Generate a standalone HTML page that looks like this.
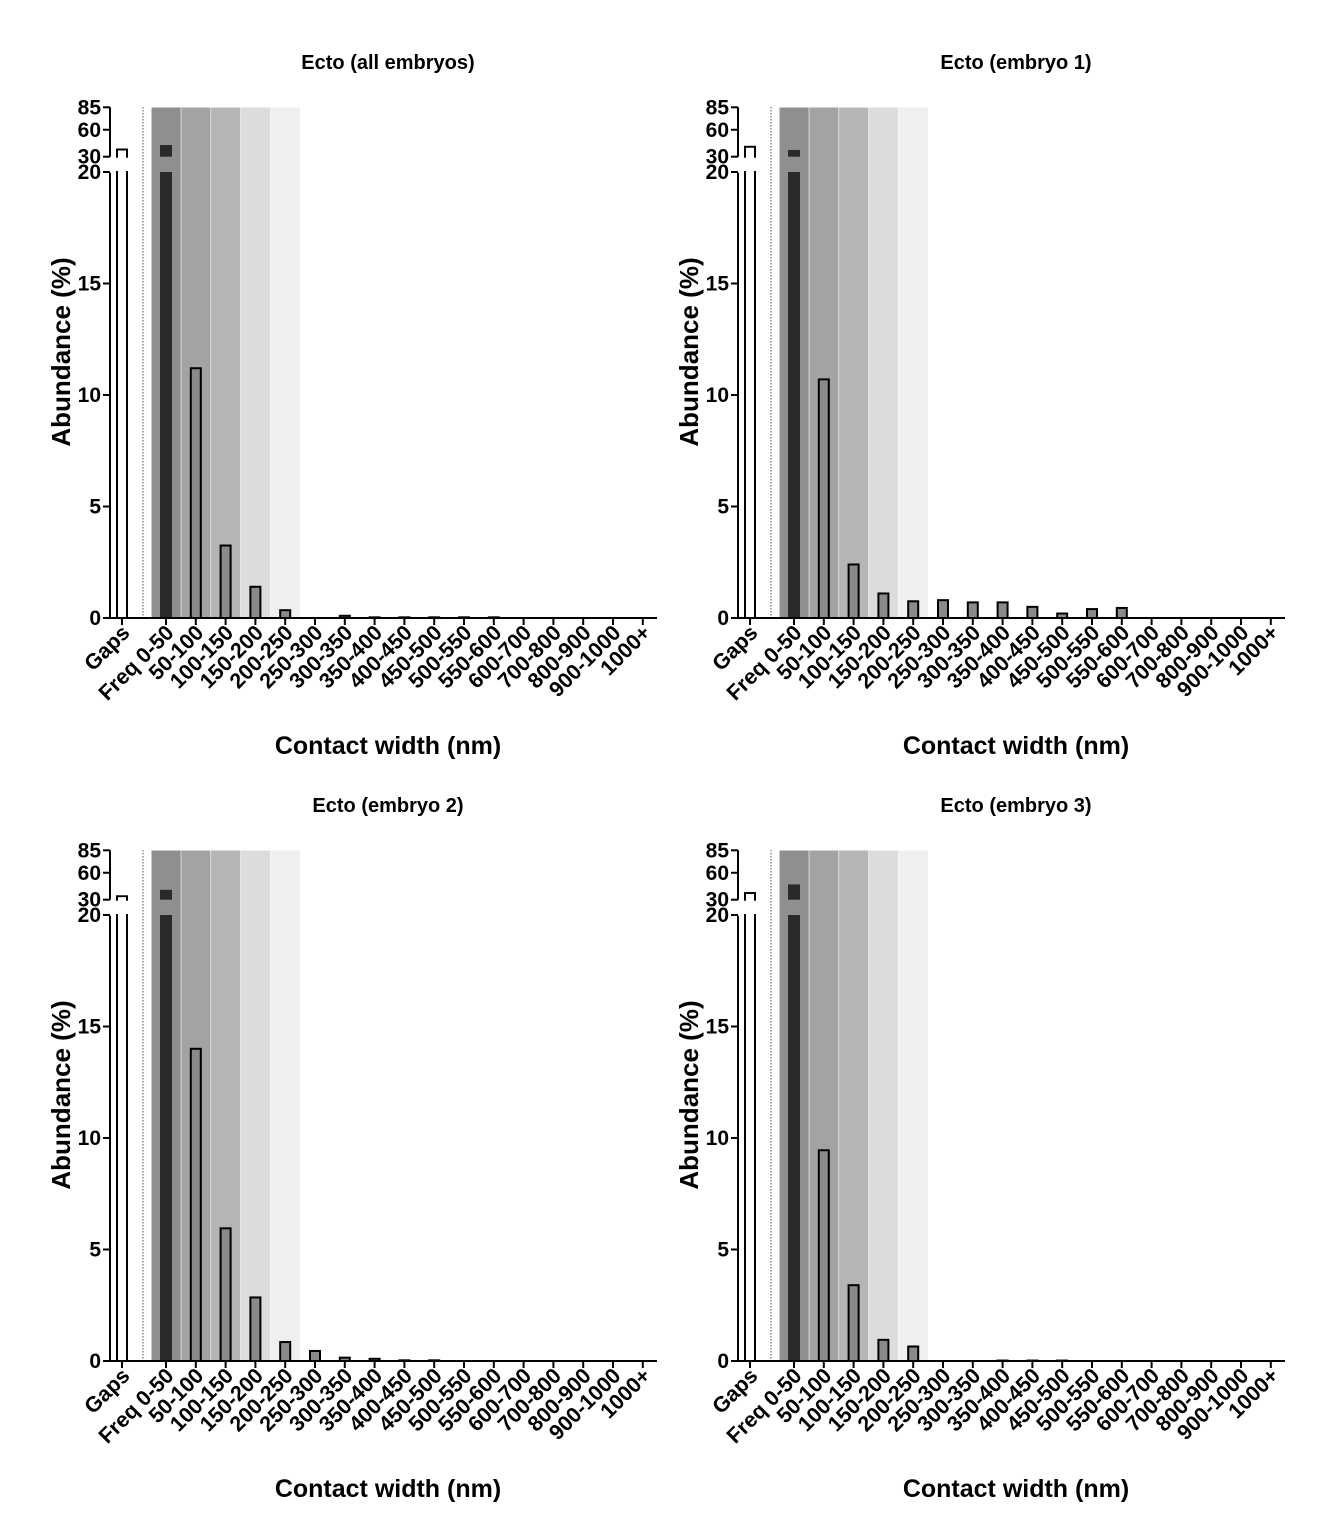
<!DOCTYPE html>
<html><head><meta charset="utf-8"><style>
body{margin:0;background:#fff;}
svg{display:block;font-family:"Liberation Sans",Arial,sans-serif;}
</style></head><body>
<svg id="fig" width="1334" height="1526" viewBox="0 0 1334 1526"></svg>
<script>
const categories=["Gaps","Freq 0-50","50-100","100-150","150-200","200-250","250-300","300-350","350-400","400-450","450-500","500-550","550-600","600-700","700-800","800-900","900-1000","1000+"];
const titles=["Ecto (all embryos)","Ecto (embryo 1)","Ecto (embryo 2)","Ecto (embryo 3)"];
const valuesAll=[38,43,11.2,3.25,1.4,0.35,0,0.1,0.03,0.03,0.03,0.03,0.03,0,0,0,0,0];
const valuesE1=[41,37.5,10.7,2.4,1.1,0.75,0.8,0.7,0.7,0.5,0.2,0.4,0.45,0,0,0,0,0];
const valuesE2=[33.8,41,14.0,5.95,2.85,0.85,0.45,0.15,0.1,0.03,0.03,0,0,0,0,0,0,0];
const valuesE3=[37.4,47,9.45,3.4,0.95,0.65,0,0,0.02,0.02,0.02,0,0,0,0,0,0,0];
const lowerTicks=[0,5,10,15,20];
const upperTicks=[30,60,85];
const bandColors=["#8f8f8f","#a3a3a3","#b5b5b5","#dcdcdc","#efefef"];
const series=[valuesAll,valuesE1,valuesE2,valuesE3];
const offsets=[[0,0],[628,0],[0,743],[628,743]];
const NS="http://www.w3.org/2000/svg";
const svg=document.getElementById('fig');
function mk(tag,attrs,parent,text){const e=document.createElementNS(NS,tag);for(const k in attrs)e.setAttribute(k,attrs[k]);if(text!==undefined)e.textContent=text;parent.appendChild(e);return e;}
function xPos(i){return i===0?122:166+(i-1)*29.8;}
function yLow(v){return 618-Math.min(v,20)*(446/20);}
function yUp(v){return 156.7-(Math.min(v,85)-30)*(49.4/55);}
series.forEach((vals,p)=>{
  const [ox,oy]=offsets[p];
  const g=mk('g',{transform:`translate(${ox},${oy})`},svg);
  
  
  const t=mk('text',{x:388,y:69,'text-anchor':'middle','font-size':20,'font-weight':'bold'},g,titles[p]);
  
  
  for(let b=0;b<5;b++){
    const r=mk('rect',{x:xPos(b+1)-14.5,y:107.5,width:29.2,height:510.5,fill:bandColors[b]},g);
    
    
  }
  const dl=mk('line',{x1:143,y1:107,x2:143,y2:618,stroke:'#555','stroke-width':1,'stroke-dasharray':'1.5,1.5'},g);
  
  
  vals.forEach((v,i)=>{
    const cx=xPos(i);
    const w=i===1?12:10;
    const fill=i===0?'#fff':(i===1?'#2a2a2a':'#8a8a8a');
    const sw=i===1?0:2;
    if(v<=0)return;
    const yl=yLow(v);
    const r=mk('rect',{x:cx-w/2,y:yl,width:w,height:618-yl,fill:fill,stroke:sw?'#000':'none','stroke-width':sw},g);
    
    
    if(v>20){
      const yu=yUp(v);
      const r2=mk('rect',{x:cx-w/2,y:yu,width:w,height:Math.max(156.7-yu,1),fill:fill,stroke:sw?'#000':'none','stroke-width':sw},g);
      
      
      if(i===0){
        mk('rect',{x:cx-w/2+1,y:yu+1,width:w-2,height:Math.max(156.7-yu,1)+2,fill:'#fff'},g);
        mk('rect',{x:cx-w/2+1,y:yl-2,width:w-2,height:4,fill:'#fff'},g);
        mk('line',{x1:cx-w/2,y1:yl-1,x2:cx-w/2,y2:618,stroke:'#000','stroke-width':2},g);
      }
    }
  });
  const ya=mk('path',{d:'M110,172.7V619 M110,107.3V156.7',stroke:'#000','stroke-width':2,fill:'none'},g);
  
  
  lowerTicks.forEach(v=>{
    const y=yLow(v);
    mk('line',{x1:103,y1:y,x2:110,y2:y,stroke:'#000','stroke-width':2},g);
    const l=mk('text',{x:101,y:y+7,'text-anchor':'end','font-size':21,'font-weight':'bold'},g,String(v));
    
    
  });
  upperTicks.forEach(v=>{
    const y=yUp(v);
    mk('line',{x1:103,y1:y,x2:110,y2:y,stroke:'#000','stroke-width':2},g);
    const l=mk('text',{x:101,y:y+7,'text-anchor':'end','font-size':21,'font-weight':'bold'},g,String(v));
    
    
  });
  const yt=mk('text',{x:0,y:0,transform:'translate(70,352) rotate(-90)','text-anchor':'middle','font-size':26,'font-weight':'bold'},g,'Abundance (%)');
  
  
  const xa=mk('line',{x1:109,y1:618,x2:657,y2:618,stroke:'#000','stroke-width':2},g);
  
  
  categories.forEach((c,i)=>{
    const x=xPos(i);
    mk('line',{x1:x,y1:618,x2:x,y2:625,stroke:'#000','stroke-width':2},g);
    const l=mk('text',{x:0,y:0,transform:`translate(${x+9},${634}) rotate(-45)`,'text-anchor':'end','font-size':21.5,'font-weight':'bold'},g,c);
    
    
  });
  const xt=mk('text',{x:388,y:754,'text-anchor':'middle','font-size':25,'font-weight':'bold'},g,'Contact width (nm)');
  
  
});
</script>
</body></html>
